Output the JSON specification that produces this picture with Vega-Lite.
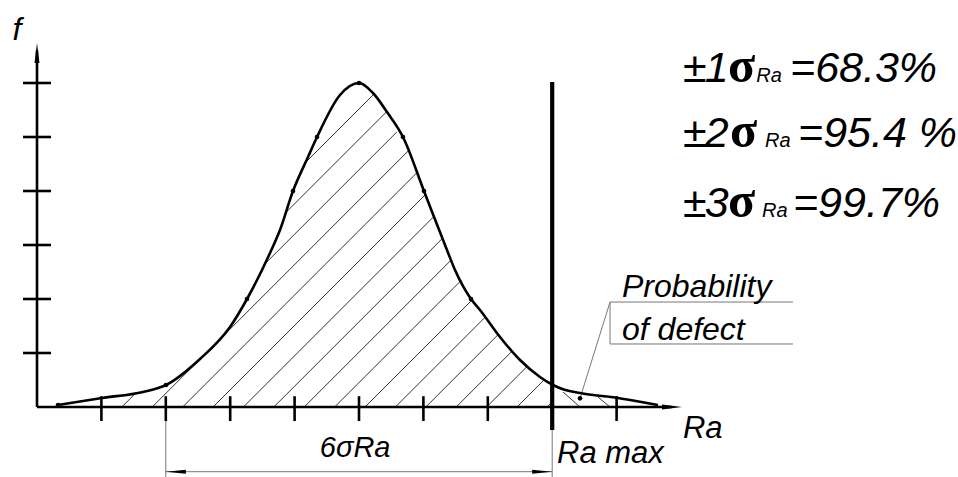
{
  "$schema": "https://vega.github.io/schema/vega-lite/v6.json",
  "width": 644,
  "height": 378,
  "autosize": {"type": "none"},
  "padding": {"left": 37, "top": 29, "right": 277, "bottom": 70},
  "background": "white",
  "config": {"view": {"stroke": null}},
  "datasets": {
    "curve": [
      {"x": 0.326, "y": 0.037}, {"x": 1.009, "y": 0.167}, {"x": 1.646, "y": 0.278},
      {"x": 2.003, "y": 0.407}, {"x": 2.531, "y": 0.889}, {"x": 2.997, "y": 1.481},
      {"x": 3.261, "y": 2.0}, {"x": 3.618, "y": 2.852}, {"x": 3.773, "y": 3.278},
      {"x": 3.975, "y": 4.0}, {"x": 4.208, "y": 4.63}, {"x": 4.348, "y": 5.0},
      {"x": 4.705, "y": 5.778}, {"x": 5.0, "y": 6.0}, {"x": 5.217, "y": 5.815},
      {"x": 5.435, "y": 5.463}, {"x": 5.683, "y": 5.0}, {"x": 6.009, "y": 4.0},
      {"x": 6.366, "y": 2.907}, {"x": 6.491, "y": 2.537}, {"x": 6.739, "y": 2.0},
      {"x": 6.879, "y": 1.796}, {"x": 7.189, "y": 1.296}, {"x": 7.5, "y": 0.87},
      {"x": 7.81, "y": 0.556}, {"x": 8.012, "y": 0.407}, {"x": 8.168, "y": 0.328},
      {"x": 8.432, "y": 0.259}, {"x": 9.022, "y": 0.167}, {"x": 9.363, "y": 0.098},
      {"x": 9.643, "y": 0.037}
    ],
    "dots": [
      {"x": 0.326, "y": 0.037}, {"x": 2.003, "y": 0.407}, {"x": 3.261, "y": 2.0},
      {"x": 3.975, "y": 4.0}, {"x": 4.348, "y": 5.0}, {"x": 5.0, "y": 6.0},
      {"x": 5.683, "y": 5.0}, {"x": 6.009, "y": 4.0}, {"x": 6.739, "y": 2.0},
      {"x": 8.432, "y": 0.161}
    ],
    "hatch": [
      {"x": 4.171, "y": 4.53, "x2": 5.233, "y2": 5.796},
      {"x": 3.863, "y": 3.6, "x2": 5.43, "y2": 5.469},
      {"x": 1.317, "y": 0, "x2": 1.533, "y2": 0.257},
      {"x": 3.528, "y": 2.637, "x2": 5.588, "y2": 5.094},
      {"x": 1.789, "y": 0, "x2": 5.764, "y2": 4.741},
      {"x": 2.261, "y": 0, "x2": 5.897, "y2": 4.337},
      {"x": 2.733, "y": 0, "x2": 6.031, "y2": 3.933},
      {"x": 3.205, "y": 0, "x2": 6.163, "y2": 3.528},
      {"x": 3.677, "y": 0, "x2": 6.297, "y2": 3.124},
      {"x": 4.149, "y": 0, "x2": 6.43, "y2": 2.72},
      {"x": 4.621, "y": 0, "x2": 6.582, "y2": 2.339},
      {"x": 5.093, "y": 0, "x2": 6.753, "y2": 1.98},
      {"x": 5.565, "y": 0, "x2": 6.961, "y2": 1.665},
      {"x": 6.037, "y": 0, "x2": 7.161, "y2": 1.341},
      {"x": 6.509, "y": 0, "x2": 7.379, "y2": 1.037},
      {"x": 6.981, "y": 0, "x2": 7.615, "y2": 0.756},
      {"x": 7.453, "y": 0, "x2": 7.877, "y2": 0.506},
      {"x": 7.925, "y": 0, "x2": 8.0, "y2": 0.104},
      {"x": 8.168, "y": 0.278, "x2": 8.432, "y2": 0},
      {"x": 8.711, "y": 0.185, "x2": 8.898, "y2": 0}
    ],
    "thick": [
      {"x": 0, "y": 0, "x2": 0, "y2": 6.6},
      {"x": 0, "y": 0, "x2": 9.85, "y2": 0},
      {"x": -0.217, "y": 1, "x2": 0.217, "y2": 1},
      {"x": -0.217, "y": 2, "x2": 0.217, "y2": 2},
      {"x": -0.217, "y": 3, "x2": 0.217, "y2": 3},
      {"x": -0.217, "y": 4, "x2": 0.217, "y2": 4},
      {"x": -0.217, "y": 5, "x2": 0.217, "y2": 5},
      {"x": -0.217, "y": 6, "x2": 0.217, "y2": 6},
      {"x": 1, "y": -0.26, "x2": 1, "y2": 0.2},
      {"x": 2, "y": -0.26, "x2": 2, "y2": 0.2},
      {"x": 3, "y": -0.26, "x2": 3, "y2": 0.2},
      {"x": 4, "y": -0.26, "x2": 4, "y2": 0.2},
      {"x": 5, "y": -0.26, "x2": 5, "y2": 0.2},
      {"x": 6, "y": -0.26, "x2": 6, "y2": 0.2},
      {"x": 7, "y": -0.26, "x2": 7, "y2": 0.2},
      {"x": 9, "y": -0.26, "x2": 9, "y2": 0.2}
    ],
    "ramax": [
      {"x": 8, "y": -0.426, "x2": 8, "y2": 6.02}
    ],
    "thin": [
      {"x": 2, "y": -0.26, "x2": 2, "y2": -1.35},
      {"x": 8, "y": -0.426, "x2": 8, "y2": -1.35},
      {"x": 2, "y": -1.198, "x2": 8, "y2": -1.198},
      {"x": 8.432, "y": 0.161, "x2": 8.898, "y2": 1.944},
      {"x": 8.898, "y": 1.944, "x2": 11.739, "y2": 1.944},
      {"x": 8.898, "y": 1.167, "x2": 11.739, "y2": 1.167},
      {"x": 8.898, "y": 1.167, "x2": 8.898, "y2": 1.944}
    ]
  },
  "layer": [
    {
      "data": {"name": "hatch"},
      "mark": {"type": "rule", "stroke": "#333333", "strokeWidth": 1},
      "encoding": {
        "x": {"field": "x", "type": "quantitative", "scale": {"domain": [0, 10]}, "axis": null},
        "y": {"field": "y", "type": "quantitative", "scale": {"domain": [0, 7]}, "axis": null},
        "x2": {"field": "x2"},
        "y2": {"field": "y2"}
      }
    },
    {
      "data": {"name": "thin"},
      "mark": {"type": "rule", "stroke": "#777777", "strokeWidth": 1},
      "encoding": {
        "x": {"field": "x", "type": "quantitative", "scale": {"domain": [0, 10]}, "axis": null},
        "y": {"field": "y", "type": "quantitative", "scale": {"domain": [0, 7]}, "axis": null},
        "x2": {"field": "x2"},
        "y2": {"field": "y2"}
      }
    },
    {
      "data": {"name": "thick"},
      "mark": {"type": "rule", "stroke": "black", "strokeWidth": 2.6},
      "encoding": {
        "x": {"field": "x", "type": "quantitative", "scale": {"domain": [0, 10]}, "axis": null},
        "y": {"field": "y", "type": "quantitative", "scale": {"domain": [0, 7]}, "axis": null},
        "x2": {"field": "x2"},
        "y2": {"field": "y2"}
      }
    },
    {
      "data": {"name": "ramax"},
      "mark": {"type": "rule", "stroke": "black", "strokeWidth": 4.2},
      "encoding": {
        "x": {"field": "x", "type": "quantitative", "scale": {"domain": [0, 10]}, "axis": null},
        "y": {"field": "y", "type": "quantitative", "scale": {"domain": [0, 7]}, "axis": null},
        "x2": {"field": "x2"},
        "y2": {"field": "y2"}
      }
    },
    {
      "data": {"name": "curve"},
      "mark": {"type": "line", "interpolate": "monotone", "stroke": "black", "strokeWidth": 2.6},
      "encoding": {
        "x": {"field": "x", "type": "quantitative", "scale": {"domain": [0, 10]}, "axis": null},
        "y": {"field": "y", "type": "quantitative", "scale": {"domain": [0, 7]}, "axis": null}
      }
    },
    {
      "data": {"name": "dots"},
      "mark": {"type": "point", "filled": true, "color": "black", "opacity": 1, "size": 22},
      "encoding": {
        "x": {"field": "x", "type": "quantitative", "scale": {"domain": [0, 10]}, "axis": null},
        "y": {"field": "y", "type": "quantitative", "scale": {"domain": [0, 7]}, "axis": null}
      }
    },
    {
      "data": {"values": [{"x": 0, "y": 6.74}]},
      "mark": {"type": "point", "shape": "M0,0L0.25,2L-0.25,2Z", "filled": true, "color": "black", "opacity": 1, "size": 400, "strokeWidth": 0},
      "encoding": {
        "x": {"field": "x", "type": "quantitative", "scale": {"domain": [0, 10]}, "axis": null},
        "y": {"field": "y", "type": "quantitative", "scale": {"domain": [0, 7]}, "axis": null}
      }
    },
    {
      "data": {"values": [{"x": 10.016, "y": 0}]},
      "mark": {"type": "point", "shape": "M0,0L-2,-0.25L-2,0.25Z", "filled": true, "color": "black", "opacity": 1, "size": 400, "strokeWidth": 0},
      "encoding": {
        "x": {"field": "x", "type": "quantitative", "scale": {"domain": [0, 10]}, "axis": null},
        "y": {"field": "y", "type": "quantitative", "scale": {"domain": [0, 7]}, "axis": null}
      }
    },
    {
      "data": {"values": [{"x": 2, "y": -1.198}]},
      "mark": {"type": "point", "shape": "M0,0L2,-0.2L2,0.2Z", "filled": true, "color": "black", "opacity": 1, "size": 400, "strokeWidth": 0},
      "encoding": {
        "x": {"field": "x", "type": "quantitative", "scale": {"domain": [0, 10]}, "axis": null},
        "y": {"field": "y", "type": "quantitative", "scale": {"domain": [0, 7]}, "axis": null}
      }
    },
    {
      "data": {"values": [{"x": 8, "y": -1.198}]},
      "mark": {"type": "point", "shape": "M0,0L-2,-0.2L-2,0.2Z", "filled": true, "color": "black", "opacity": 1, "size": 400, "strokeWidth": 0},
      "encoding": {
        "x": {"field": "x", "type": "quantitative", "scale": {"domain": [0, 10]}, "axis": null},
        "y": {"field": "y", "type": "quantitative", "scale": {"domain": [0, 7]}, "axis": null}
      }
    },
    {
      "data": {"values": [{"x": -0.31, "y": 6.8, "t": "f"}]},
      "mark": {"type": "text", "font": "Liberation Sans", "fontStyle": "italic", "fontSize": 32, "align": "center", "baseline": "alphabetic", "color": "black"},
      "encoding": {
        "x": {"field": "x", "type": "quantitative", "scale": {"domain": [0, 10]}, "axis": null},
        "y": {"field": "y", "type": "quantitative", "scale": {"domain": [0, 7]}, "axis": null},
        "text": {"field": "t"}
      }
    },
    {
      "data": {"values": [{"x": 4.94, "y": -0.926, "t": "6σRa"}]},
      "mark": {"type": "text", "font": "Liberation Sans", "fontStyle": "italic", "fontSize": 29, "align": "center", "baseline": "alphabetic", "color": "black"},
      "encoding": {
        "x": {"field": "x", "type": "quantitative", "scale": {"domain": [0, 10]}, "axis": null},
        "y": {"field": "y", "type": "quantitative", "scale": {"domain": [0, 7]}, "axis": null},
        "text": {"field": "t"}
      }
    },
    {
      "data": {"values": [{"x": 8.075, "y": -1.037, "t": "Ra max"}, {"x": 10.03, "y": -0.574, "t": "Ra"}]},
      "mark": {"type": "text", "font": "Liberation Sans", "fontStyle": "italic", "fontSize": 31, "align": "left", "baseline": "alphabetic", "color": "black"},
      "encoding": {
        "x": {"field": "x", "type": "quantitative", "scale": {"domain": [0, 10]}, "axis": null},
        "y": {"field": "y", "type": "quantitative", "scale": {"domain": [0, 7]}, "axis": null},
        "text": {"field": "t"}
      }
    },
    {
      "data": {"values": [{"x": 9.084, "y": 2.037, "t": "Probability"}, {"x": 9.084, "y": 1.241, "t": "of defect"}]},
      "mark": {"type": "text", "font": "Liberation Sans", "fontStyle": "italic", "fontSize": 32, "align": "left", "baseline": "alphabetic", "color": "black"},
      "encoding": {
        "x": {"field": "x", "type": "quantitative", "scale": {"domain": [0, 10]}, "axis": null},
        "y": {"field": "y", "type": "quantitative", "scale": {"domain": [0, 7]}, "axis": null},
        "text": {"field": "t"}
      }
    },
    {
      "data": {"values": [
        {"x": 10.031, "y": 6.019, "t": "±"},
        {"x": 10.031, "y": 4.815, "t": "±"},
        {"x": 10.031, "y": 3.519, "t": "±"},
        {"x": 10.37, "y": 6.019, "t": "1"},
        {"x": 10.37, "y": 4.815, "t": "2"},
        {"x": 10.37, "y": 3.519, "t": "3"},
        {"x": 11.693, "y": 6.019, "t": "=68.3%"},
        {"x": 11.817, "y": 4.815, "t": "=95.4 %"},
        {"x": 11.739, "y": 3.519, "t": "=99.7%"}
      ]},
      "mark": {"type": "text", "font": "Liberation Sans", "fontStyle": "italic", "fontSize": 43, "align": "left", "baseline": "alphabetic", "color": "black"},
      "encoding": {
        "x": {"field": "x", "type": "quantitative", "scale": {"domain": [0, 10]}, "axis": null},
        "y": {"field": "y", "type": "quantitative", "scale": {"domain": [0, 7]}, "axis": null},
        "text": {"field": "t"}
      }
    },
    {
      "data": {"values": [
        {"x": 10.73, "y": 6.019, "t": "σ"},
        {"x": 10.761, "y": 4.815, "t": "σ"},
        {"x": 10.73, "y": 3.519, "t": "σ"}
      ]},
      "mark": {"type": "text", "font": "Liberation Serif", "fontWeight": "bold", "fontSize": 50, "align": "left", "baseline": "alphabetic", "color": "black"},
      "encoding": {
        "x": {"field": "x", "type": "quantitative", "scale": {"domain": [0, 10]}, "axis": null},
        "y": {"field": "y", "type": "quantitative", "scale": {"domain": [0, 7]}, "axis": null},
        "text": {"field": "t"}
      }
    },
    {
      "data": {"values": [
        {"x": 11.17, "y": 6.019, "t": "Ra"},
        {"x": 11.304, "y": 4.815, "t": "Ra"},
        {"x": 11.258, "y": 3.519, "t": "Ra"}
      ]},
      "mark": {"type": "text", "font": "Liberation Sans", "fontStyle": "italic", "fontSize": 20, "align": "left", "baseline": "alphabetic", "color": "black"},
      "encoding": {
        "x": {"field": "x", "type": "quantitative", "scale": {"domain": [0, 10]}, "axis": null},
        "y": {"field": "y", "type": "quantitative", "scale": {"domain": [0, 7]}, "axis": null},
        "text": {"field": "t"}
      }
    }
  ]
}
